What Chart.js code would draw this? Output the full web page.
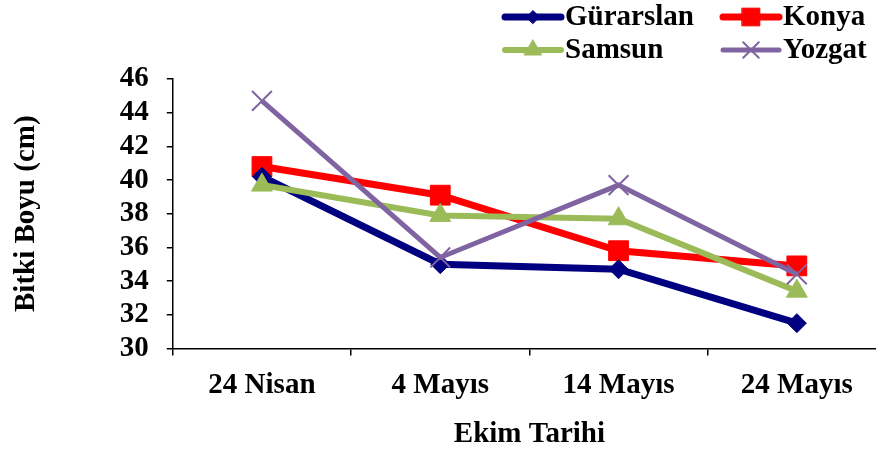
<!DOCTYPE html>
<html><head><meta charset="utf-8">
<script src="https://cdn.jsdelivr.net/npm/chart.js@4/dist/chart.umd.min.js"></script>
<style>html,body{margin:0;padding:0;background:#fff;overflow:hidden;width:876px;height:450px}</style>
</head><body>
<canvas id="c" width="902" height="450" style="width:902px;height:450px;display:block"></canvas>
<script>
const categories = ["24 Nisan", "4 Mayıs", "14 Mayıs", "24 Mayıs"];
const gurarslan = [40.2, 35.0, 34.7, 31.5];
const konya = [40.8, 39.1, 35.8, 34.9];
const samsun = [39.7, 37.9, 37.7, 33.4];
const yozgat = [44.7, 35.4, 39.7, 34.4];
const yTicks = [30, 32, 34, 36, 38, 40, 42, 44, 46];
const FONT = "'Liberation Serif','Times New Roman',serif";
const FS = 29;

const legendPlugin = {
  id: 'customLegend',
  afterDraw(chart) {
    const ctx = chart.ctx;
    const cols = [505, 723];
    const rows = [17, 50];
    const legendRadius = [6.5, 12.5, 10, 11];
    chart.data.datasets.forEach((ds, i) => {
      const x = cols[i % 2], y = rows[Math.floor(i / 2)];
      ctx.save();
      ctx.strokeStyle = ds.borderColor;
      ctx.fillStyle = ds.backgroundColor;
      ctx.lineWidth = ds.borderWidth;
      ctx.lineCap = 'round';
      ctx.beginPath(); ctx.moveTo(x, y); ctx.lineTo(x + 56, y); ctx.stroke();
      ctx.lineWidth = ds.pointBorderWidth;
      Chart.helpers.drawPoint(ctx, {pointStyle: ds.pointStyle, radius: legendRadius[i], borderWidth: ds.pointBorderWidth, rotation: 0}, x + 28, y);
      ctx.fillStyle = '#000';
      ctx.font = "bold " + FS + "px " + FONT;
      ctx.textBaseline = 'middle';
      ctx.textAlign = 'left';
      ctx.fillText(ds.label, x + 60, y + 1);
      ctx.restore();
    });
  }
};

new Chart(document.getElementById('c'), {
  type: 'line',
  data: {
    labels: categories,
    datasets: [
      {label: 'Gürarslan', data: gurarslan, borderColor: '#000080', backgroundColor: '#000080', borderWidth: 7, pointStyle: 'rectRot', pointRadius: 9.5, pointBorderWidth: 1, order: 1},
      {label: 'Konya', data: konya, borderColor: '#FF0000', backgroundColor: '#FF0000', borderWidth: 7, pointStyle: 'rect', pointRadius: 14, pointBorderWidth: 1, order: 2},
      {label: 'Samsun', data: samsun, borderColor: '#9BBB59', backgroundColor: '#9BBB59', borderWidth: 6, pointStyle: 'triangle', pointRadius: 12, pointBorderWidth: 1, order: 0},
      {label: 'Yozgat', data: yozgat, borderColor: '#8064A2', backgroundColor: '#8064A2', borderWidth: 5, pointStyle: 'crossRot', pointRadius: 14, pointBorderWidth: 2, order: -1}
    ]
  },
  options: {
    responsive: false,
    animation: false,
    devicePixelRatio: 1,
    layout: {padding: {top: 79, right: 0, left: 9, bottom: -2}},
    plugins: {legend: {display: false}, tooltip: {enabled: false}},
    elements: {line: {tension: 0}},
    scales: {
      x: {
        offset: true,
        grid: {offset: true, drawOnChartArea: false, tickLength: 7, color: '#000', lineWidth: 1.5},
        border: {color: '#000', width: 1.5},
        ticks: {color: '#000', font: {family: FONT, size: FS, weight: 'bold'}, padding: 13, maxRotation: 0, autoSkip: false},
        title: {display: true, text: 'Ekim Tarihi', color: '#000', font: {family: FONT, size: FS, weight: 'bold'}, padding: {top: 1, bottom: 0}}
      },
      y: {
        min: 30, max: 46,
        afterBuildTicks(axis) { axis.ticks = yTicks.map(v => ({value: v})); },
        grid: {drawOnChartArea: false, tickLength: 6, color: '#000', lineWidth: 1.5},
        border: {color: '#000', width: 1.5},
        ticks: {color: '#000', font: {family: FONT, size: FS, weight: 'bold'}, padding: 18, autoSkip: false},
        title: {display: true, text: 'Bitki Boyu (cm)', color: '#000', font: {family: FONT, size: FS, weight: 'bold'}, padding: {top: 0, bottom: 58}}
      }
    }
  },
  plugins: [legendPlugin]
});
</script>
</body></html>
